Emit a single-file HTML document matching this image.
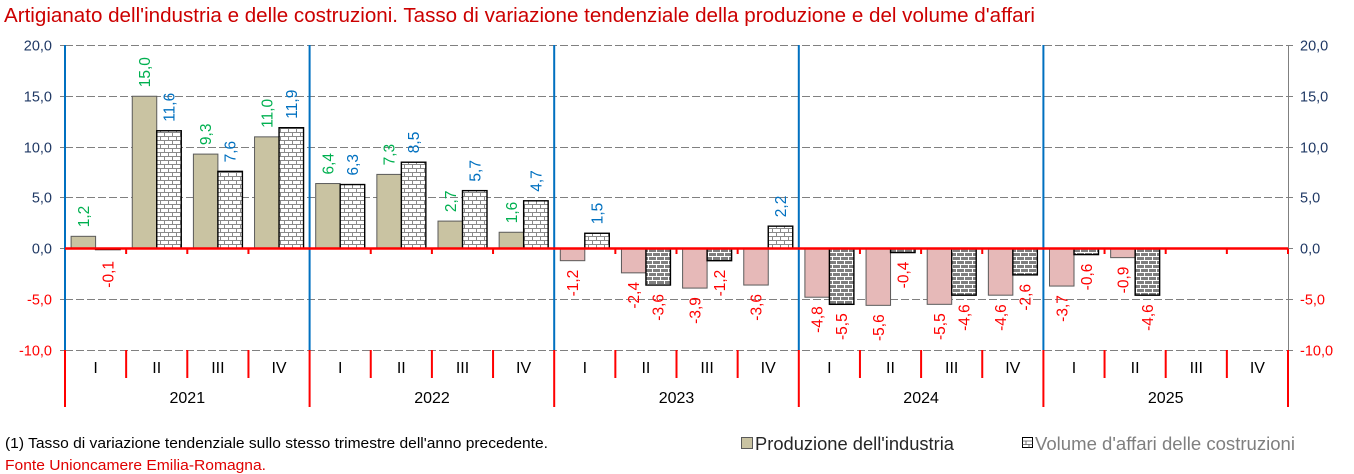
<!DOCTYPE html>
<html><head><meta charset="utf-8"><style>
html,body{margin:0;padding:0;background:#fff;}
svg{display:block;font-family:"Liberation Sans",Arial,sans-serif;}
</style></head><body>
<svg width="1354" height="474" viewBox="0 0 1354 474" xmlns="http://www.w3.org/2000/svg">
<defs>
<pattern id="bw" width="8" height="8" patternUnits="userSpaceOnUse">
<rect width="8" height="8" fill="#fff"/>
<path d="M0 0.5H8M0 4.5H8M0.5 0.5V4.5M4.5 4.5V8.5" stroke="#8a8a8a" stroke-width="1" fill="none"/>
</pattern>
<pattern id="bg" width="8" height="8" patternUnits="userSpaceOnUse">
<rect width="8" height="8" fill="#7f7f7f"/>
<path d="M0 0.5H8M0 4.5H8M0.5 0.5V4.5M4.5 4.5V8.5" stroke="#ffffff" stroke-width="1" fill="none"/>
</pattern>
</defs>
<rect width="1354" height="474" fill="#fff"/>

<text x="4" y="22" font-size="20" fill="#CC0000" textLength="1031" lengthAdjust="spacingAndGlyphs">Artigianato dell'industria e delle costruzioni. Tasso di variazione tendenziale della produzione e del volume d'affari</text>

<!-- gridlines -->
<g stroke="#808080" stroke-width="1">
<path d="M65 45.5H1288M65 96.5H1288M65 147.5H1288M65 197.5H1288M65 299.5H1288M65 350.5H1288" stroke-dasharray="8,3"/>
<path d="M60 45.5H65M60 96.5H65M60 147.5H65M60 197.5H65M60 248.5H65M60 299.5H65M60 350.5H65"/>
<path d="M1288 45.5H1293M1288 96.5H1293M1288 147.5H1293M1288 197.5H1293M1288 248.5H1293M1288 299.5H1293M1288 350.5H1293"/>
<path d="M1288.5 45V350"/>
</g>

<!-- axis labels -->
<g font-size="14.5" fill="#1F3864" text-anchor="end">
<text x="52" y="50.5">20,0</text>
<text x="52" y="101.5">15,0</text>
<text x="52" y="152.5">10,0</text>
<text x="52" y="202.5">5,0</text>
<text x="52" y="253.5">0,0</text>
<text x="52" y="304.5" fill="#FF0000">-5,0</text>
<text x="52" y="355.5" fill="#FF0000">-10,0</text>
</g>
<g font-size="14.5" fill="#1F3864">
<text x="1300" y="50.5">20,0</text>
<text x="1300" y="101.5">15,0</text>
<text x="1300" y="152.5">10,0</text>
<text x="1300" y="202.5">5,0</text>
<text x="1300" y="253.5">0,0</text>
<text x="1300" y="304.5" fill="#FF0000">-5,0</text>
<text x="1300" y="355.5" fill="#FF0000">-10,0</text>
</g>

<!-- production positive -->
<g fill="#C9C3A2" stroke="#5a5a5a" stroke-width="1">
<rect x="71.1" y="236.32" width="24.5" height="12.18"/>
<rect x="132.25" y="96.25" width="24.5" height="152.25"/>
<rect x="193.4" y="154.1" width="24.5" height="94.4"/>
<rect x="254.55" y="136.85" width="24.5" height="111.65"/>
<rect x="315.7" y="183.54" width="24.5" height="64.96"/>
<rect x="376.85" y="174.4" width="24.5" height="74.1"/>
<rect x="438.0" y="221.09" width="24.5" height="27.41"/>
<rect x="499.15" y="232.26" width="24.5" height="16.24"/>
</g>
<!-- production negative -->
<g fill="#E6B9B8" stroke="#5a5a5a" stroke-width="1">
<rect x="560.3" y="248.5" width="24.5" height="12.18"/>
<rect x="621.45" y="248.5" width="24.5" height="24.36"/>
<rect x="682.6" y="248.5" width="24.5" height="39.59"/>
<rect x="743.75" y="248.5" width="24.5" height="36.54"/>
<rect x="804.9" y="248.5" width="24.5" height="48.72"/>
<rect x="866.05" y="248.5" width="24.5" height="56.84"/>
<rect x="927.2" y="248.5" width="24.5" height="55.83"/>
<rect x="988.35" y="248.5" width="24.5" height="46.69"/>
<rect x="1049.5" y="248.5" width="24.5" height="37.56"/>
<rect x="1110.65" y="248.5" width="24.5" height="9.14"/>
</g>
<!-- construction positive -->
<g fill="url(#bw)" stroke="#000" stroke-width="1.4">
<rect x="156.75" y="130.76" width="24.5" height="117.74"/>
<rect x="217.9" y="171.36" width="24.5" height="77.14"/>
<rect x="279.05" y="127.71" width="24.5" height="120.79"/>
<rect x="340.2" y="184.55" width="24.5" height="63.95"/>
<rect x="401.35" y="162.22" width="24.5" height="86.28"/>
<rect x="462.5" y="190.64" width="24.5" height="57.86"/>
<rect x="523.65" y="200.79" width="24.5" height="47.71"/>
<rect x="584.8" y="233.27" width="24.5" height="15.23"/>
<rect x="768.25" y="226.17" width="24.5" height="22.33"/>
</g>
<!-- construction negative -->
<g fill="url(#bg)" stroke="#000" stroke-width="1.4">
<rect x="95.6" y="248.5" width="24.5" height="1.02"/>
<rect x="645.95" y="248.5" width="24.5" height="36.54"/>
<rect x="707.1" y="248.5" width="24.5" height="12.18"/>
<rect x="829.4" y="248.5" width="24.5" height="55.83"/>
<rect x="890.55" y="248.5" width="24.5" height="4.06"/>
<rect x="951.7" y="248.5" width="24.5" height="46.69"/>
<rect x="1012.85" y="248.5" width="24.5" height="26.39"/>
<rect x="1074.0" y="248.5" width="24.5" height="6.09"/>
<rect x="1135.15" y="248.5" width="24.5" height="46.69"/>
</g>

<!-- blue year dividers -->
<g stroke="#0070C0" stroke-width="2">
<path d="M65 45V350M309.6 45V350M554.2 45V350M798.8 45V350M1043.4 45V350"/>
</g>
<!-- zero line & ticks -->
<g stroke="#FF0000" stroke-width="2">
<path d="M65 248.5H1288" stroke-width="2.5"/>
<path d="M126.15 248.5V254M187.3 248.5V254M248.45 248.5V254M370.75 248.5V254M431.9 248.5V254M493.05 248.5V254M615.35 248.5V254M676.5 248.5V254M737.65 248.5V254M859.95 248.5V254M921.1 248.5V254M982.25 248.5V254M1104.55 248.5V254M1165.7 248.5V254M1226.85 248.5V254M1288 248.5V254"/>
<path d="M126.15 350V378M187.3 350V378M248.45 350V378M370.75 350V378M431.9 350V378M493.05 350V378M615.35 350V378M676.5 350V378M737.65 350V378M859.95 350V378M921.1 350V378M982.25 350V378M1104.55 350V378M1165.7 350V378M1226.85 350V378"/>
<path d="M65 350V407M309.6 350V407M554.2 350V407M798.8 350V407M1043.4 350V407M1288 350V407"/>
</g>

<!-- category labels -->
<g font-size="16" fill="#000" text-anchor="middle">
<text x="95.6" y="373">I</text><text x="156.7" y="373">II</text><text x="217.9" y="373">III</text><text x="279.0" y="373">IV</text>
<text x="340.2" y="373">I</text><text x="401.3" y="373">II</text><text x="462.5" y="373">III</text><text x="523.6" y="373">IV</text>
<text x="584.8" y="373">I</text><text x="645.9" y="373">II</text><text x="707.1" y="373">III</text><text x="768.2" y="373">IV</text>
<text x="829.4" y="373">I</text><text x="890.5" y="373">II</text><text x="951.7" y="373">III</text><text x="1012.8" y="373">IV</text>
<text x="1074.0" y="373">I</text><text x="1135.1" y="373">II</text><text x="1196.3" y="373">III</text><text x="1257.4" y="373">IV</text>
<text x="187.3" y="403">2021</text><text x="432.0" y="403">2022</text><text x="676.5" y="403">2023</text><text x="921.1" y="403">2024</text><text x="1165.7" y="403">2025</text>
</g>

<!-- data labels: production positive (green) -->
<g font-size="15.5" fill="#00B050" text-anchor="start" dominant-baseline="central">
<text transform="translate(84.35,227.3) rotate(-90)">1,2</text>
<text transform="translate(145.5,87.25) rotate(-90)">15,0</text>
<text transform="translate(206.65,145.1) rotate(-90)">9,3</text>
<text transform="translate(267.8,127.85) rotate(-90)">11,0</text>
<text transform="translate(328.95,174.5) rotate(-90)">6,4</text>
<text transform="translate(390.1,165.4) rotate(-90)">7,3</text>
<text transform="translate(451.25,212.1) rotate(-90)">2,7</text>
<text transform="translate(512.4,223.3) rotate(-90)">1,6</text>
</g>
<!-- construction positive (blue) -->
<g font-size="15.5" fill="#0070C0" text-anchor="start" dominant-baseline="central">
<text transform="translate(170.0,121.8) rotate(-90)">11,6</text>
<text transform="translate(231.15,162.4) rotate(-90)">7,6</text>
<text transform="translate(292.3,118.7) rotate(-90)">11,9</text>
<text transform="translate(353.45,175.5) rotate(-90)">6,3</text>
<text transform="translate(414.6,153.2) rotate(-90)">8,5</text>
<text transform="translate(475.75,181.6) rotate(-90)">5,7</text>
<text transform="translate(536.9,191.8) rotate(-90)">4,7</text>
<text transform="translate(598.05,224.3) rotate(-90)">1,5</text>
<text transform="translate(781.5,217.2) rotate(-90)">2,2</text>
</g>
<!-- negatives (red) -->
<g font-size="15.5" fill="#FF0000" text-anchor="end" dominant-baseline="central">
<text transform="translate(108.85,261) rotate(-90)">-0,1</text>
<text transform="translate(573.55,269.7) rotate(-90)">-1,2</text>
<text transform="translate(634.7,281.9) rotate(-90)">-2,4</text>
<text transform="translate(659.2,294.0) rotate(-90)">-3,6</text>
<text transform="translate(695.85,297.1) rotate(-90)">-3,9</text>
<text transform="translate(720.35,269.7) rotate(-90)">-1,2</text>
<text transform="translate(757.0,294.0) rotate(-90)">-3,6</text>
<text transform="translate(818.15,306.2) rotate(-90)">-4,8</text>
<text transform="translate(842.65,313.3) rotate(-90)">-5,5</text>
<text transform="translate(879.3,314.3) rotate(-90)">-5,6</text>
<text transform="translate(903.8,261.6) rotate(-90)">-0,4</text>
<text transform="translate(940.45,313.3) rotate(-90)">-5,5</text>
<text transform="translate(964.95,304.2) rotate(-90)">-4,6</text>
<text transform="translate(1001.6,304.2) rotate(-90)">-4,6</text>
<text transform="translate(1026.1,283.9) rotate(-90)">-2,6</text>
<text transform="translate(1062.75,295.1) rotate(-90)">-3,7</text>
<text transform="translate(1087.25,263.6) rotate(-90)">-0,6</text>
<text transform="translate(1123.9,266.6) rotate(-90)">-0,9</text>
<text transform="translate(1148.4,304.2) rotate(-90)">-4,6</text>
</g>

<!-- footnotes -->
<text x="5" y="448" font-size="15" fill="#000" textLength="543" lengthAdjust="spacingAndGlyphs">(1) Tasso di variazione tendenziale sullo stesso trimestre dell'anno precedente.</text>
<text x="5" y="470" font-size="15" fill="#E00000" textLength="261" lengthAdjust="spacingAndGlyphs">Fonte Unioncamere Emilia-Romagna.</text>

<!-- legend -->
<rect x="741.5" y="437.5" width="11" height="11" fill="#C9C3A2" stroke="#5a5a5a" stroke-width="1"/>
<text x="755" y="450" font-size="18" fill="#262626" textLength="199" lengthAdjust="spacingAndGlyphs">Produzione dell'industria</text>
<rect x="1022.5" y="437.5" width="10" height="10" fill="#fff" stroke="#000" stroke-width="1"/>
<path d="M1022.5 441H1032.5M1022.5 444.5H1032.5M1026 441V444.5M1029 444.5V447.5" stroke="#555" stroke-width="0.8" fill="none"/>
<text x="1035" y="450" font-size="18" fill="#7f7f7f" textLength="260" lengthAdjust="spacingAndGlyphs">Volume d'affari delle costruzioni</text>
</svg>
</body></html>
